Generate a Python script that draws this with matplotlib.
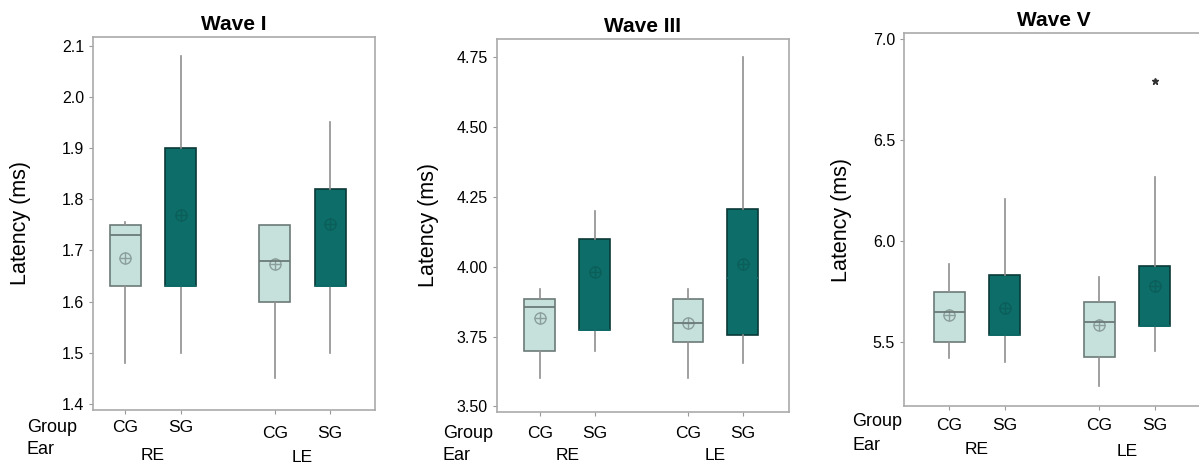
import matplotlib.pyplot as plt
import numpy as np

# order of boxes: CG-RE, SG-RE, CG-LE, SG-LE
groups = ["CG", "SG", "CG", "SG"]
ears = ["RE", "LE"]
titles = ["Wave I", "Wave III", "Wave V"]

# wave I
w1_q1 = [1.63, 1.63, 1.60, 1.63]
w1_med = [1.73, 1.63, 1.68, 1.63]
w1_q3 = [1.75, 1.90, 1.75, 1.82]
w1_lo = [1.48, 1.50, 1.45, 1.50]
w1_hi = [1.755, 2.08, 1.75, 1.95]
w1_mean = [1.685, 1.77, 1.673, 1.752]
w1_out = [[], [], [], []]

# wave III
w3_q1 = [3.70, 3.775, 3.73, 3.755]
w3_med = [3.855, 3.775, 3.80, 3.96]
w3_q3 = [3.885, 4.10, 3.885, 4.205]
w3_lo = [3.60, 3.70, 3.60, 3.655]
w3_hi = [3.92, 4.20, 3.92, 4.75]
w3_mean = [3.815, 3.98, 3.80, 4.01]
w3_out = [[], [], [], []]

# wave V
w5_q1 = [5.50, 5.535, 5.425, 5.58]
w5_med = [5.648, 5.535, 5.60, 5.58]
w5_q3 = [5.75, 5.83, 5.70, 5.875]
w5_lo = [5.42, 5.40, 5.285, 5.455]
w5_hi = [5.885, 6.21, 5.82, 6.315]
w5_mean = [5.635, 5.67, 5.585, 5.78]
w5_out = [[], [], [], [6.79]]

waves = [
    (w1_q1, w1_med, w1_q3, w1_lo, w1_hi, w1_mean, w1_out),
    (w3_q1, w3_med, w3_q3, w3_lo, w3_hi, w3_mean, w3_out),
    (w5_q1, w5_med, w5_q3, w5_lo, w5_hi, w5_mean, w5_out),
]

yticks = [np.arange(1.4, 2.11, 0.1), np.arange(3.5, 4.76, 0.25), np.arange(5.5, 7.01, 0.5)]
yfmt = ["{:.1f}", "{:.2f}", "{:.1f}"]
ylims = [(1.388, 2.117), (3.48, 4.815), (5.185, 7.028)]
xlims = [(0.42, 5.51), (0.22, 5.54), (0.19, 5.58)]
boxes_at = [
    [0.0776, 0.1221, 0.2352, 0.7987],
    [0.4145, 0.1178, 0.2435, 0.7987],
    [0.7540, 0.1306, 0.2500, 0.7987],
]
ylab_x = [-0.22, -0.199, -0.173]
# pixel layout of the label block under each panel:
# left of "Group"/"Ear", y of "Group", "Ear", RE groups, RE, LE groups, LE
lab_left = [27, 443, 852]
rows = [(427, 450, 427, 455, 434, 458),
        (433, 456, 433, 455, 433, 456),
        (422, 445, 425, 450, 425, 452)]

W, H = 1199, 467
pos = [1, 2, 3.7, 4.7]
light = "#c6e1db"
dark = "#0d6d68"
fills = [light, dark, light, dark]
edges = ["#6c7a77", "#0a3a38", "#6c7a77", "#0a3a38"]

plt.rcParams['font.family'] = ['Liberation Sans', 'DejaVu Sans']
fig = plt.figure(figsize=(W / 100, H / 100), dpi=100)

for k in range(3):
    q1, med, q3, lo, hi, mean, out = waves[k]
    ax = fig.add_axes(boxes_at[k])
    stats = []
    for i in range(4):
        stats.append({"q1": q1[i], "med": med[i], "q3": q3[i], "whislo": lo[i],
                      "whishi": hi[i], "mean": mean[i], "fliers": out[i]})
    bp = ax.bxp(stats, positions=pos, widths=0.56, patch_artist=True, showcaps=False,
                showmeans=False,
                whiskerprops=dict(color="#8f8f8f", lw=1.2),
                flierprops=dict(marker="*", markersize=5, markerfacecolor="#333333",
                                markeredgecolor="#333333"))
    for i in range(4):
        bp["boxes"][i].set_facecolor(fills[i])
        bp["boxes"][i].set_edgecolor(edges[i])
        bp["boxes"][i].set_linewidth(1.2)
        bp["medians"][i].set_color(edges[i] if i % 2 == 0 else dark)
        bp["medians"][i].set_linewidth(1.3)
        # mean symbol: circle with cross
        mc = "#8a9e9a" if i % 2 == 0 else "#0b5e5a"
        ax.plot(pos[i], mean[i], marker="o", ms=8, mfc="none", mec=mc, mew=1.0)
        ax.plot(pos[i], mean[i], marker="+", ms=8, mec=mc, mew=1.0)

    ax.set_xlim(*xlims[k])
    ax.set_ylim(*ylims[k])
    ax.set_yticks(yticks[k])
    ax.set_yticklabels([yfmt[k].format(v) for v in yticks[k]], fontsize=11.5)
    ax.set_xticks(pos)
    ax.set_xticklabels([])
    ax.tick_params(axis="both", color="#999999", length=3)
    for s in ax.spines.values():
        s.set_color("#aaaaaa")
        s.set_linewidth(1.2)
    ax.set_title(titles[k], fontsize=15, fontweight="bold", pad=5)
    ax.set_ylabel("Latency (ms)", fontsize=15.5)
    ax.yaxis.set_label_coords(ylab_x[k], 0.5)

    r = rows[k]
    fig.text(lab_left[k] / W, 1 - r[0] / H, "Group", ha="left", va="center", fontsize=13)
    fig.text(lab_left[k] / W, 1 - r[1] / H, "Ear", ha="left", va="center", fontsize=13)
    tr = ax.get_xaxis_transform()
    yb = boxes_at[k][1]
    ht = boxes_at[k][3]
    for j in range(2):
        gy = (1 - r[2 + 2 * j] / H - yb) / ht
        ey = (1 - r[3 + 2 * j] / H - yb) / ht
        for i in (2 * j, 2 * j + 1):
            ax.text(pos[i], gy, groups[i], transform=tr, ha="center", va="center",
                    fontsize=12.5)
        ax.text((pos[2 * j] + pos[2 * j + 1]) / 2, ey, ears[j], transform=tr,
                ha="center", va="center", fontsize=12.5)

fig.savefig("out.png", dpi=100)
